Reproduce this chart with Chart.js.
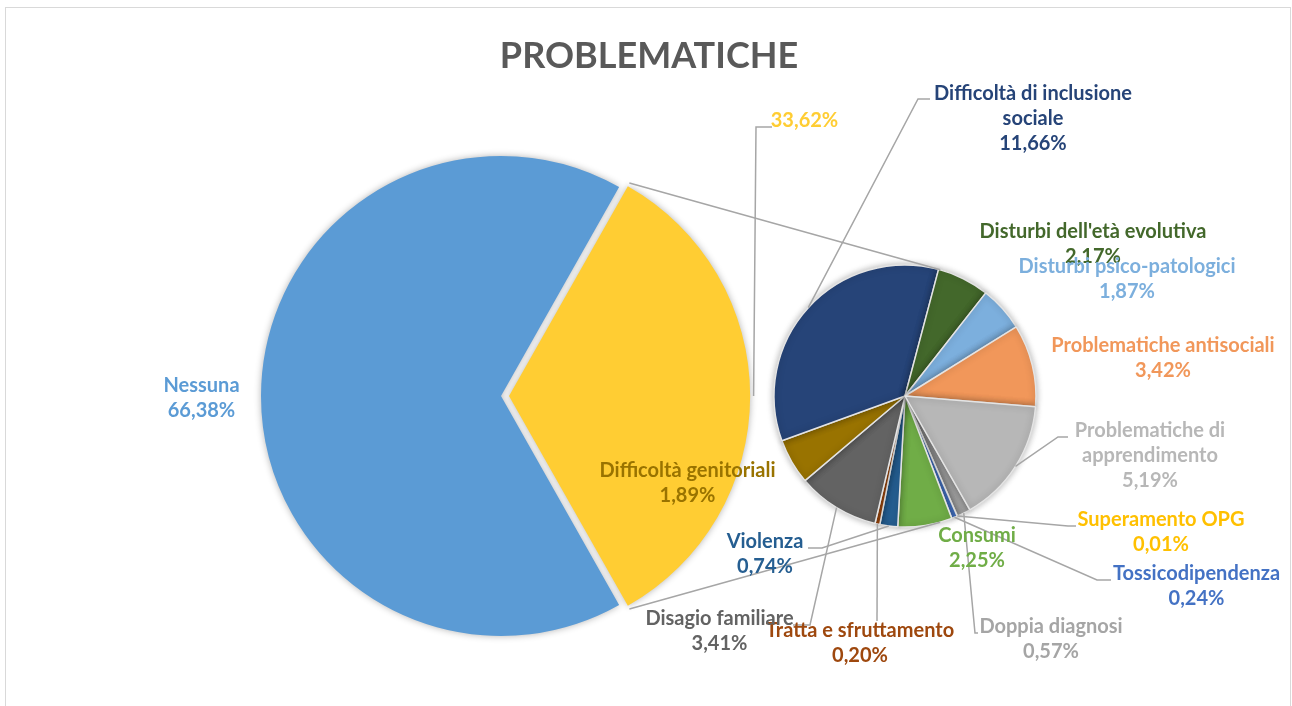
<!DOCTYPE html>
<html>
<head>
<meta charset="utf-8">
<script src="https://cdn.jsdelivr.net/npm/chart.js@4.4.0/dist/chart.umd.min.js"></script>
<style>
html,body{margin:0;padding:0;background:#ffffff;}
#wrap{position:relative;width:1292px;height:706px;overflow:hidden;background:#fff;}
#frame{position:absolute;left:5px;top:7px;width:1284px;height:720px;border:1.5px solid #d9d9d9;}
canvas{position:absolute;left:0;top:0;}
</style>
</head>
<body>
<div id="wrap">
  <div id="frame"></div>
  <canvas id="c1" width="1292" height="706"></canvas>
  <canvas id="c2" width="1292" height="706"></canvas>
</div>
<script>
// ---------- DATA ----------
const chartTitle = 'PROBLEMATICHE';
const mainCategories = ['Nessuna', 'Altro'];
const mainValues = [66.38, 33.62];
const categories = [
  'Doppia diagnosi', 'Superamento OPG', 'Tossicodipendenza', 'Consumi', 'Violenza',
  'Tratta e sfruttamento', 'Disagio familiare', 'Difficoltà genitoriali',
  'Difficoltà di inclusione sociale', "Disturbi dell'età evolutiva", 'Disturbi psico-patologici',
  'Problematiche antisociali', 'Problematiche di apprendimento'
];
const values = [0.57, 0.01, 0.24, 2.25, 0.74, 0.20, 3.41, 1.89, 11.66, 2.17, 1.87, 3.42, 5.19];

// ---------- STYLE ----------
const mainColors = ['#5B9BD5', '#FFCD33'];
const smallColors = ['#A5A5A5', '#FFC000', '#4472C4', '#70AD47', '#255E91', '#9E480E', '#636363',
  '#997300', '#264478', '#43682B', '#7CAFDD', '#F1975A', '#B7B7B7'];
const lineColor = '#A6A6A6';
const labelFont = 'bold 20px Lato';
const lineH = 25;

// label layout: x = centre, y = baseline of first line, leader = points from label side
const labelLayout = {
  'Nessuna': {x: 201.5, y: 391.5},
  'Altro': {x: 804.5, y: 127, pctOnly: true, leader: [[772, 127], [756, 127]]},
  'Difficoltà di inclusione sociale': {x: 1033, y: 100, wrap: 220, leader: [[930, 99], [918, 99]]},
  "Disturbi dell'età evolutiva": {x: 1093, y: 238},
  'Disturbi psico-patologici': {x: 1127, y: 273},
  'Problematiche antisociali': {x: 1163, y: 352},
  'Problematiche di apprendimento': {x: 1150, y: 437, wrap: 175, leader: [[1068, 437], [1058, 437]]},
  'Superamento OPG': {x: 1161, y: 526, leader: [[1076, 526], [1068, 526]]},
  'Tossicodipendenza': {x: 1196.5, y: 580, leader: [[1111, 580], [1097, 580]]},
  'Doppia diagnosi': {x: 1051, y: 633, leader: [[978, 633], [975, 633]]},
  'Consumi': {x: 977, y: 542},
  'Tratta e sfruttamento': {x: 860, y: 637, leader: [[877, 621]]},
  'Disagio familiare': {x: 719.5, y: 625, leader: [[793, 625], [810, 625]]},
  'Violenza': {x: 765, y: 548, leader: [[808, 548], [822, 548]]},
  'Difficoltà genitoriali': {x: 687.5, y: 477}
};

const fmtPct = v => v.toFixed(2).replace('.', ',') + '%';
const mainTotal = mainValues.reduce((a, b) => a + b, 0);

const shadowPlugin = {
  id: 'shadow',
  beforeDatasetsDraw(chart) {
    const c = chart.ctx; c.save();
    c.shadowColor = 'rgba(0,0,0,0.30)'; c.shadowBlur = 7; c.shadowOffsetX = 0; c.shadowOffsetY = 0;
  },
  afterDatasetsDraw(chart) { chart.ctx.restore(); }
};

const YELLOW_OFFSET = 32;

const chart1 = new Chart(document.getElementById('c1'), {
  type: 'pie',
  data: {
    labels: mainCategories,
    datasets: [{data: mainValues, backgroundColor: mainColors, borderWidth: 0, offset: [0, YELLOW_OFFSET]}]
  },
  options: {
    responsive: false, animation: false, devicePixelRatio: 1, events: [],
    radius: 240,
    rotation: 90 + mainValues[1] / mainTotal * 180,
    layout: {padding: {left: 0, right: 290, top: 86, bottom: 0}},
    plugins: {legend: {display: false}, tooltip: {enabled: false}, title: {display: false}}
  },
  plugins: [shadowPlugin]
});

function wrapText(ctx, text, maxW) {
  if (!maxW) return [text];
  const words = text.split(' ');
  const lines = []; let cur = '';
  for (const w of words) {
    const t = cur ? cur + ' ' + w : w;
    if (ctx.measureText(t).width > maxW && cur) { lines.push(cur); cur = w; } else cur = t;
  }
  if (cur) lines.push(cur);
  return lines;
}

function arcTip(el, extraOffset) {
  const mid = (el.startAngle + el.endAngle) / 2;
  let cx = el.x, cy = el.y, r = el.outerRadius;
  if (extraOffset) {
    const circ = el.endAngle - el.startAngle;
    const fix = 1 - Math.sin(Math.min(Math.PI, circ));
    cx += Math.cos(mid) * extraOffset / 4; cy += Math.sin(mid) * extraOffset / 4;
    r += extraOffset * fix;
  }
  return [cx + Math.cos(mid) * r, cy + Math.sin(mid) * r, cx, cy, r];
}

const overlayPlugin = {
  id: 'overlay',
  afterDraw(chart) {
    const ctx = chart.ctx;
    ctx.save();
    // title
    ctx.font = 'bold 36px Lato';
    ctx.fillStyle = '#595959';
    ctx.textAlign = 'center'; ctx.textBaseline = 'alphabetic';
    ctx.fillText(chartTitle, 649, 68);

    // series lines (tangents from yellow slice corners to second pie)
    const yEl = chart1.getDatasetMeta(0).data[1];
    const [, , ycx, ycy, yr] = arcTip(yEl, YELLOW_OFFSET);
    const sEl = chart.getDatasetMeta(0).data[0];
    const C = [sEl.x, sEl.y], R = sEl.outerRadius;
    ctx.strokeStyle = lineColor; ctx.lineWidth = 1.5;
    [[yEl.startAngle, -1], [yEl.endAngle, 1]].forEach(([ang, sgn]) => {
      const P = [ycx + Math.cos(ang) * yr, ycy + Math.sin(ang) * yr];
      const dx = P[0] - C[0], dy = P[1] - C[1];
      const d = Math.hypot(dx, dy);
      const phi = Math.atan2(dy, dx);
      const alpha = Math.acos(R / d);
      const t = sgn < 0 ? phi + alpha : phi - alpha;
      ctx.beginPath();
      ctx.moveTo(P[0], P[1]);
      ctx.lineTo(C[0] + Math.cos(t) * R, C[1] + Math.sin(t) * R);
      ctx.stroke();
    });

    // collect label items
    const items = [];
    const m1 = chart1.getDatasetMeta(0).data;
    mainCategories.forEach((name, i) => {
      items.push({name, value: mainValues[i], color: mainColors[i], el: m1[i], off: i === 1 ? YELLOW_OFFSET : 0});
    });
    const m2 = chart.getDatasetMeta(0).data;
    categories.forEach((name, i) => {
      items.push({name, value: values[i], color: smallColors[i], el: m2[i], off: 0});
    });

    ctx.font = labelFont;
    // leaders
    items.forEach(it => {
      const L = labelLayout[it.name];
      if (!L || !L.leader) return;
      const tip = arcTip(it.el, it.off);
      ctx.beginPath();
      ctx.moveTo(L.leader[0][0], L.leader[0][1]);
      for (let k = 1; k < L.leader.length; k++) ctx.lineTo(L.leader[k][0], L.leader[k][1]);
      ctx.lineTo(tip[0], tip[1]);
      ctx.strokeStyle = lineColor; ctx.lineWidth = 1.5;
      ctx.stroke();
    });
    // labels
    ctx.textAlign = 'center'; ctx.textBaseline = 'alphabetic';
    items.forEach(it => {
      const L = labelLayout[it.name];
      if (!L) return;
      const lines = L.pctOnly ? [] : wrapText(ctx, it.name, L.wrap);
      lines.push(fmtPct(it.value));
      ctx.fillStyle = it.color;
      lines.forEach((ln, k) => ctx.fillText(ln, L.x, L.y + k * lineH));
    });
    ctx.restore();
  }
};

const chart2 = new Chart(document.getElementById('c2'), {
  type: 'pie',
  data: {
    labels: categories,
    datasets: [{data: values, backgroundColor: smallColors, borderColor: '#e4e4e4', borderWidth: 1.5}]
  },
  options: {
    responsive: false, animation: false, devicePixelRatio: 1, events: [],
    radius: 131,
    rotation: 150.3,
    layout: {padding: {left: 518, right: 0, top: 86, bottom: 0}},
    plugins: {legend: {display: false}, tooltip: {enabled: false}, title: {display: false}}
  },
  plugins: [shadowPlugin, overlayPlugin]
});
</script>
</body>
</html>
